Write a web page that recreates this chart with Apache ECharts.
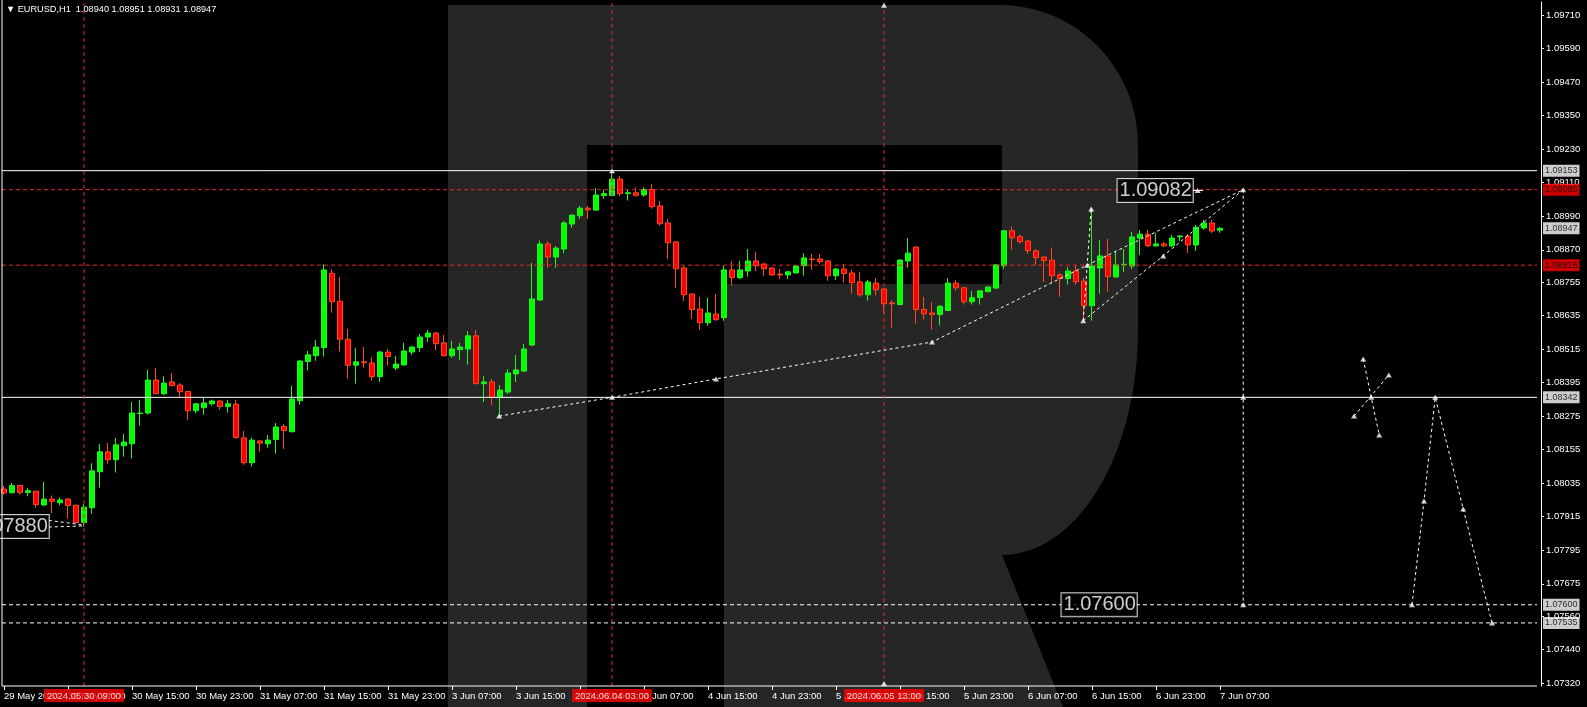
<!DOCTYPE html>
<html><head><meta charset="utf-8">
<script src="https://cdn.jsdelivr.net/npm/echarts@6/dist/echarts.min.js"></script>
<style>html,body{margin:0;padding:0;background:#000;}#c{width:1587px;height:707px;}</style>
</head><body><div id="c"></div>
<script>
// ---------- data ----------
const symbolName = 'EURUSD,H1';
const xTickLabels = ['29 May 2024','30 May 07:00','30 May 15:00','30 May 23:00','31 May 07:00','31 May 15:00','31 May 23:00','3 Jun 07:00','3 Jun 15:00','3 Jun 23:00','4 Jun 07:00','4 Jun 15:00','4 Jun 23:00','5 Jun 07:00','5 Jun 15:00','5 Jun 23:00','6 Jun 07:00','6 Jun 15:00','6 Jun 23:00','7 Jun 07:00'];
const yTickLabels = ['1.07320','1.07440','1.07560','1.07675','1.07795','1.07915','1.08035','1.08155','1.08275','1.08395','1.08515','1.08635','1.08755','1.08870','1.08990','1.09110','1.09230','1.09350','1.09470','1.09590','1.09710'];

const openP = [1.08014,1.08001,1.08027,1.08002,1.08006,1.07957,1.07978,1.07965,1.07978,1.07956,
1.07894,1.07947,1.08076,1.08147,1.08119,1.08169,1.08176,1.08284,1.08286,1.08404,
1.08355,1.08397,1.08386,1.08363,1.08294,1.08305,1.08319,1.08329,1.08309,1.08318,
1.08197,1.08108,1.08186,1.08176,1.08191,1.08238,1.08219,1.08330,1.08470,1.08491,
1.08520,1.08786,1.08686,1.08550,1.08457,1.08469,1.08465,1.08416,1.08504,1.08447,
1.08458,1.08504,1.08520,1.08558,1.08572,1.08537,1.08491,1.08513,1.08515,1.08562,
1.08391,1.08397,1.08342,1.08361,1.08426,1.08436,1.08529,1.08690,1.08891,1.08844,
1.08873,1.08962,1.08992,1.09019,1.09012,1.09064,1.09064,1.09123,1.09071,1.09074,
1.09066,1.09086,1.09027,1.08966,1.08898,1.08805,1.08712,1.08658,1.08609,1.08640,
1.08627,1.08798,1.08770,1.08794,1.08830,1.08819,1.08805,1.08783,1.08780,1.08787,
1.08813,1.08837,1.08837,1.08830,1.08777,1.08801,1.08787,1.08755,1.08709,1.08751,
1.08730,1.08680,1.08674,1.08830,1.08880,1.08657,1.08644,1.08638,1.08653,1.08751,
1.08734,1.08684,1.08699,1.08720,1.08733,1.08813,1.08938,1.08917,1.08901,1.08866,
1.08844,1.08833,1.08780,1.08767,1.08794,1.08758,1.08670,1.08805,1.08848,1.08773,
1.08816,1.08812,1.08912,1.08926,1.08884,1.08891,1.08884,1.08916,1.08919,1.08887,
1.08948,1.08966,1.08940];
const highP = [1.08025,1.08036,1.08029,1.08018,1.08008,1.08039,1.07991,1.07984,1.07982,1.07958,
1.07960,1.08106,1.08175,1.08179,1.08197,1.08211,1.08325,1.08333,1.08440,1.08447,
1.08418,1.08429,1.08393,1.08365,1.08322,1.08341,1.08334,1.08331,1.08333,1.08333,
1.08222,1.08197,1.08189,1.08207,1.08250,1.08247,1.08383,1.08476,1.08508,1.08547,
1.08818,1.08800,1.08773,1.08587,1.08519,1.08522,1.08486,1.08508,1.08515,1.08490,
1.08537,1.08526,1.08569,1.08583,1.08576,1.08565,1.08544,1.08537,1.08579,1.08583,
1.08418,1.08408,1.08386,1.08443,1.08494,1.08533,1.08823,1.08903,1.08901,1.08883,
1.08973,1.08996,1.09027,1.09027,1.09091,1.09084,1.09150,1.09134,1.09084,1.09093,
1.09093,1.09105,1.09045,1.08980,1.08901,1.08812,1.08714,1.08701,1.08698,1.08712,
1.08812,1.08830,1.08830,1.08873,1.08862,1.08823,1.08808,1.08801,1.08794,1.08813,
1.08858,1.08855,1.08855,1.08833,1.08805,1.08819,1.08798,1.08791,1.08762,1.08769,
1.08732,1.08690,1.08837,1.08912,1.08882,1.08701,1.08683,1.08672,1.08769,1.08762,
1.08736,1.08723,1.08724,1.08738,1.08819,1.08941,1.08952,1.08924,1.08905,1.08873,
1.08846,1.08878,1.08787,1.08808,1.08816,1.08769,1.09020,1.08905,1.08909,1.08866,
1.08873,1.08934,1.08941,1.08941,1.08930,1.08898,1.08923,1.08923,1.08926,1.08959,
1.08977,1.08977,1.08951];
const lowP = [1.07993,1.07998,1.07994,1.07988,1.07947,1.07953,1.07927,1.07956,1.07908,1.07891,
1.07879,1.07926,1.08019,1.08105,1.08073,1.08130,1.08123,1.08241,1.08280,1.08353,
1.08350,1.08382,1.08344,1.08262,1.08285,1.08280,1.08312,1.08298,1.08287,1.08194,
1.08101,1.08094,1.08148,1.08162,1.08141,1.08158,1.08217,1.08316,1.08438,1.08473,
1.08488,1.08645,1.08506,1.08409,1.08391,1.08448,1.08402,1.08398,1.08455,1.08440,
1.08455,1.08494,1.08504,1.08540,1.08511,1.08488,1.08483,1.08476,1.08459,1.08389,
1.08325,1.08315,1.08275,1.08354,1.08397,1.08434,1.08527,1.08687,1.08805,1.08805,
1.08858,1.08948,1.08980,1.08980,1.09010,1.09052,1.09062,1.09062,1.09046,1.09060,
1.09060,1.09017,1.08956,1.08837,1.08733,1.08687,1.08623,1.08583,1.08598,1.08616,
1.08616,1.08742,1.08765,1.08774,1.08794,1.08777,1.08777,1.08765,1.08765,1.08786,
1.08777,1.08798,1.08820,1.08759,1.08762,1.08752,1.08713,1.08702,1.08688,1.08706,
1.08641,1.08591,1.08670,1.08806,1.08606,1.08620,1.08584,1.08599,1.08652,1.08724,
1.08674,1.08674,1.08674,1.08719,1.08730,1.08802,1.08870,1.08892,1.08856,1.08816,
1.08755,1.08751,1.08702,1.08745,1.08745,1.08624,1.08616,1.08713,1.08720,1.08769,
1.08791,1.08801,1.08851,1.08880,1.08880,1.08880,1.08880,1.08901,1.08858,1.08866,
1.08941,1.08930,1.08931];
const closeP = [1.08000,1.08027,1.08001,1.08008,1.07958,1.07978,1.07970,1.07975,1.07955,1.07894,
1.07949,1.08079,1.08147,1.08119,1.08172,1.08182,1.08286,1.08286,1.08404,1.08355,
1.08393,1.08384,1.08362,1.08294,1.08319,1.08322,1.08329,1.08309,1.08319,1.08198,
1.08108,1.08189,1.08178,1.08189,1.08236,1.08223,1.08336,1.08472,1.08494,1.08522,
1.08798,1.08684,1.08550,1.08457,1.08469,1.08466,1.08416,1.08504,1.08488,1.08461,
1.08508,1.08522,1.08558,1.08572,1.08534,1.08491,1.08515,1.08522,1.08562,1.08391,
1.08397,1.08342,1.08368,1.08429,1.08440,1.08515,1.08694,1.08891,1.08844,1.08876,
1.08966,1.08994,1.09019,1.09013,1.09066,1.09071,1.09123,1.09071,1.09074,1.09065,
1.09086,1.09024,1.08963,1.08895,1.08802,1.08709,1.08656,1.08609,1.08644,1.08620,
1.08798,1.08770,1.08798,1.08830,1.08813,1.08802,1.08780,1.08780,1.08791,1.08812,
1.08841,1.08835,1.08828,1.08777,1.08801,1.08785,1.08752,1.08709,1.08755,1.08727,
1.08677,1.08677,1.08833,1.08858,1.08656,1.08641,1.08638,1.08668,1.08751,1.08734,
1.08684,1.08698,1.08723,1.08737,1.08816,1.08938,1.08913,1.08899,1.08867,1.08842,
1.08831,1.08777,1.08767,1.08794,1.08756,1.08670,1.08812,1.08848,1.08774,1.08816,
1.08818,1.08916,1.08926,1.08884,1.08891,1.08884,1.08912,1.08919,1.08887,1.08951,
1.08966,1.08937,1.08947];

// horizontal price levels (solid white, red dashed, white dashed)
const solidLevels = [1.09153, 1.08342];
const redLevels = [1.09085, 1.08815];
const dashLevels = [1.07600, 1.07535];
const currentPrice = 1.08947;
// vertical time lines (bar index) and their date labels
const vLineBars = [10, 76, 110];
const vLineLabels = ['2024.05.30 09:00', '2024.06.04 03:00', '2024.06.05 13:00'];
// forecast drawings: [bar index, price]
const pathA = [[61.9,1.08275],[76,1.08342],[89,1.08408],[116,1.08540],[135.4,1.08815],[154.9,1.09085]];
const pathB = [[134.9,1.08616],[144.9,1.08848],[154.9,1.09085]];
const pathC = [[134.9,1.08616],[135.9,1.09016]];
const pathD = [[154.9,1.09085],[154.9,1.08342],[154.9,1.07600]];
const pathE = [[176,1.07600],[177.5,1.07971],[178.9,1.08342],[182.4,1.07943],[186,1.07535]];
const pathF1 = [[169.9,1.08479],[171.9,1.08207]];
const pathF2 = [[168.75,1.08275],[173.1,1.08422]];
const pathG1 = [[5.6,1.07902],[10,1.07885]];
const pathG2 = [[5.6,1.07878],[10,1.07882]];
const pathH = [[148.6,1.09082],[149.9,1.09082]];
const markerPts = [[61.9,1.08275],[76,1.08342],[89,1.08408],[116,1.08540],[135.4,1.08815],[154.9,1.09085],
  [134.9,1.08616],[144.9,1.08848],[135.9,1.09016],[154.9,1.08342],[154.9,1.07600],
  [176,1.07600],[177.5,1.07971],[178.9,1.08342],[182.4,1.07943],[186,1.07535],
  [169.9,1.08479],[171.9,1.08207],[168.75,1.08275],[173.1,1.08422],[170.9,1.08342],[76,1.09153],[149.2,1.09082],
  [110,1.09745],[110,1.07318]];
// big in-chart price texts
const bigTexts = ['1.09082', '1.07600', '1.07880'];
const bigBars = [148.6, 141.6, 5.6];
const bigPrices = [1.09082, 1.07600, 1.07880];

// ---------- layout ----------
const FONT = 'Liberation Sans, Arial, sans-serif';
const Y_MIN = 1.073093, Y_MAX = 1.097565, Y_TOP = 1.097637;
const N_SLOTS = 192;
const X_LEFT = -0.25, X_RIGHT = 192.125;

const categories = Array.from({length: N_SLOTS}, (_, i) => String(i));
const candleData = openP.map((o, i) => [o, closeP[i], lowP[i], highP[i]]);
const yTickValues = yTickLabels.map(Number);
const showTick = (idx) => idx % 8 === 0 && idx / 8 < xTickLabels.length;

function rPolygon() {
  const pts = [[448,5],[1000,5]];
  for (let k = 1; k <= 18; k++) { const a = -Math.PI/2 + (Math.PI/2)*k/18; pts.push([1000+138*Math.cos(a), 145+140*Math.sin(a)]); }
  pts.push([1138,330]);
  for (let k = 1; k <= 22; k++) { const a = (Math.PI/2)*k/22; pts.push([1002+136*Math.cos(a), 330+225*Math.sin(a)]); }
  pts.push([1063,707],[724,707],[724,284],[1002,284],[1002,145],[587,145],[587,707],[448,707]);
  return pts;
}

function lineS(data, color, type, z) {
  return {type:'line', xAxisIndex:1, yAxisIndex:0, data, symbol:'none', silent:true, clip:false,
    lineStyle:{color, width:1, type}, z: z || 4, animation:false};
}
const WHITE_DASH = [4,3], RED = '#e8262a';

const series = [];
series.push({type:'candlestick', xAxisIndex:0, yAxisIndex:0, data: candleData, barWidth:5, z:3,
  itemStyle:{color:'#00ff00', color0:'#ff0000', borderColor:'#22f522', borderColor0:'#ff4a1f', borderWidth:1}});
// frame
series.push(lineS([[X_LEFT,Y_MIN],[X_LEFT,Y_TOP]], '#ffffff', 'solid', 12));
series.push(lineS([[X_LEFT,Y_MIN],[X_RIGHT,Y_MIN]], '#ffffff', 'solid', 12));
solidLevels.forEach(p => series.push(lineS([[X_LEFT,p],[X_RIGHT,p]], '#ffffff', 'solid')));
redLevels.forEach(p => series.push(lineS([[X_LEFT,p],[X_RIGHT,p]], RED, [4,3])));
dashLevels.forEach(p => series.push(lineS([[X_LEFT,p],[X_RIGHT,p]], '#ffffff', WHITE_DASH)));
vLineBars.forEach(b => series.push(lineS([[b,Y_MIN],[b,Y_TOP]], RED, [4,3])));
[pathA, pathB, pathC, pathD, pathE, pathF1, pathF2, pathG1, pathG2].forEach(p => series.push(lineS(p, '#ffffff', [3,3], 5)));
series.push(lineS(pathH, '#ffffff', 'solid', 5));
// markers
series.push({type:'scatter', xAxisIndex:1, yAxisIndex:0, data: markerPts, symbol:'triangle', symbolSize:[6,5],
  itemStyle:{color:'#ffffff'}, clip:false, silent:true, z:6});
// right-side price boxes
const boxPrices = [solidLevels[0], redLevels[0], currentPrice, redLevels[1], solidLevels[1], dashLevels[0], dashLevels[1]];
const boxRed = [false, true, false, true, false, false, false];
series.push({type:'scatter', xAxisIndex:1, yAxisIndex:0, symbolSize:0, clip:false, silent:true, z:10,
  data: boxPrices.map((p, i) => ({value:[X_RIGHT, p], label:{backgroundColor: boxRed[i] ? '#ff0000' : '#ffffff'}})),
  label:{show:true, position:'right', distance:2, color:'#000', fontSize:9, fontFamily:FONT, padding:[2,2,1,2],
    formatter: (prm) => prm.value[1].toFixed(5)}});
// date boxes at bottom
series.push({type:'scatter', xAxisIndex:1, yAxisIndex:0, symbolSize:0, clip:false, silent:true, z:10,
  data: vLineBars.map((b, i) => ({value:[b, Y_MIN], name: vLineLabels[i]})),
  label:{show:true, position:'bottom', distance:3, color:'#ffffff', backgroundColor:'#ff0000', fontSize:9.5, fontFamily:FONT,
    padding:[2,3,1,3], formatter: (prm) => prm.name}});
// big price texts
series.push({type:'scatter', xAxisIndex:1, yAxisIndex:0, symbolSize:0, clip:false, silent:true, z:9,
  data: bigBars.map((b, i) => ({value:[b, bigPrices[i]], name: bigTexts[i]})),
  label:{show:true, position:'left', distance:0, color:'#ffffff', backgroundColor:'#000', borderColor:'#ffffff', borderWidth:1,
    fontSize:20, fontFamily:FONT, padding:[2,1,1,2], formatter: (prm) => prm.name}});

const last = openP.length - 1;
const header = '\u25BC ' + symbolName + '  ' + [openP[last], highP[last], lowP[last], closeP[last]].map(v => v.toFixed(5)).join(' ');

const option = {
  backgroundColor: '#000',
  animation: false,
  title: {text: header, left: 6, top: 5, padding: 0,
    textStyle: {color:'#ffffff', fontSize:9.2, fontWeight:'normal', fontFamily:FONT}},
  grid: {left:0, top:2, width:1536, height:684},
  xAxis: [
    {type:'category', data: categories, boundaryGap:true, gridIndex:0,
      axisLine:{show:false, onZero:false},
      axisTick:{show:true, alignWithLabel:true, interval: showTick, length:4, lineStyle:{color:'#ffffff'}},
      axisLabel:{interval: showTick, align:'left', margin:5, color:'#ffffff', fontSize:9.5, fontFamily:FONT,
        formatter: (v, idx) => xTickLabels[idx / 8]},
      splitLine:{show:false}},
    {type:'value', min:-0.5, max:191.5, show:false, gridIndex:0, axisLine:{show:false, onZero:false},
      axisTick:{show:false}, axisLabel:{show:false}, splitLine:{show:false}}
  ],
  yAxis: {type:'value', position:'right', min:Y_MIN, max:Y_MAX, offset:5, gridIndex:0,
    splitLine:{show:false},
    axisLine:{show:true, onZero:false, lineStyle:{color:'#ffffff'}},
    axisTick:{show:true, customValues: yTickValues, length:3, lineStyle:{color:'#ffffff'}},
    minorTick:{show:false},
    axisLabel:{customValues: yTickValues, margin:5, color:'#ffffff', fontSize:9.5, fontFamily:FONT,
      formatter: (v) => yTickLabels[yTickValues.indexOf(v)] || v.toFixed(5)}},
  graphic: [{type:'polygon', z:-1, silent:true, shape:{points: rPolygon()}, style:{fill:'#262626'}}],
  series
};
const chart = echarts.init(document.getElementById('c'), null, {renderer:'canvas'});
chart.setOption(option);
</script></body></html>
